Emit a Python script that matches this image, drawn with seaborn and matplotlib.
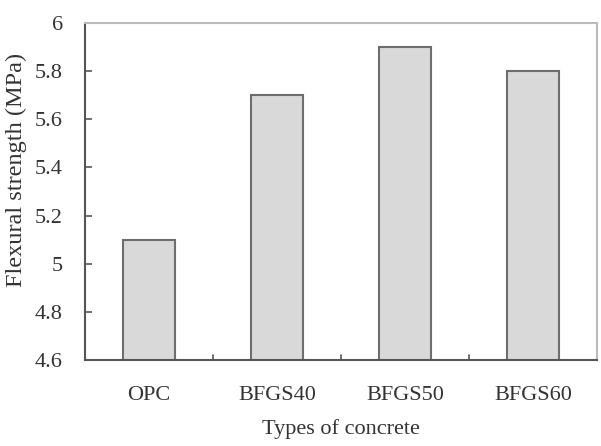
import matplotlib
matplotlib.use("Agg")
import matplotlib.pyplot as plt
import seaborn as sns
import pandas as pd
import numpy as np

# Data
concrete_types = ["OPC", "BFGS40", "BFGS50", "BFGS60"]
flexural_strength = [5.1, 5.7, 5.9, 5.8]
y_ticks = [4.6, 4.8, 5.0, 5.2, 5.4, 5.6, 5.8, 6.0]
y_tick_labels = ["4.6", "4.8", "5", "5.2", "5.4", "5.6", "5.8", "6"]

df = pd.DataFrame({"type": concrete_types, "strength": flexural_strength})

sns.set_style("white")
plt.rcParams["font.family"] = ["Liberation Serif", "DejaVu Serif"]

fig = plt.figure(figsize=(6.01, 4.46), dpi=100)
ax = fig.add_axes([85 / 601, 1 - 360 / 446, 512 / 601, 337 / 446])

sns.barplot(data=df, x="type", y="strength", color="#d9d9d9",
            edgecolor="#6e6e6e", linewidth=1.5, width=0.41, saturation=1, ax=ax)

ax.set_ylim(4.6, 6.0)
ax.set_xlim(-0.5, 3.5)
ax.set_yticks(y_ticks)
ax.set_yticklabels(y_tick_labels, fontsize=16, color="#333333")
ax.set_xticks(np.arange(len(concrete_types)))
ax.set_xticklabels(concrete_types, fontsize=16, color="#333333")
ax.tick_params(axis="x", length=0, pad=19)
ax.tick_params(axis="y", direction="in", length=5, width=1.2, color="#555555", pad=16, left=True)

# small inward ticks between categories
for xb in [0.5, 1.5, 2.5]:
    ax.plot([xb, xb], [4.6, 4.6 + 0.02], color="#555555", lw=1.2, clip_on=False)

for side in ["left", "bottom"]:
    ax.spines[side].set_color("#555555")
    ax.spines[side].set_linewidth(1.5)
for side in ["top", "right"]:
    ax.spines[side].set_visible(True)
    ax.spines[side].set_color("#bbbbbb")
    ax.spines[side].set_linewidth(1.5)

ax.set_xlabel("Types of concrete", fontsize=16, labelpad=10, color="#333333")
ax.set_ylabel("Flexural strength (MPa)", fontsize=17.5, color="#333333")
ax.yaxis.set_label_coords(-0.114, 0.564)

fig.savefig("out.png", dpi=100)
